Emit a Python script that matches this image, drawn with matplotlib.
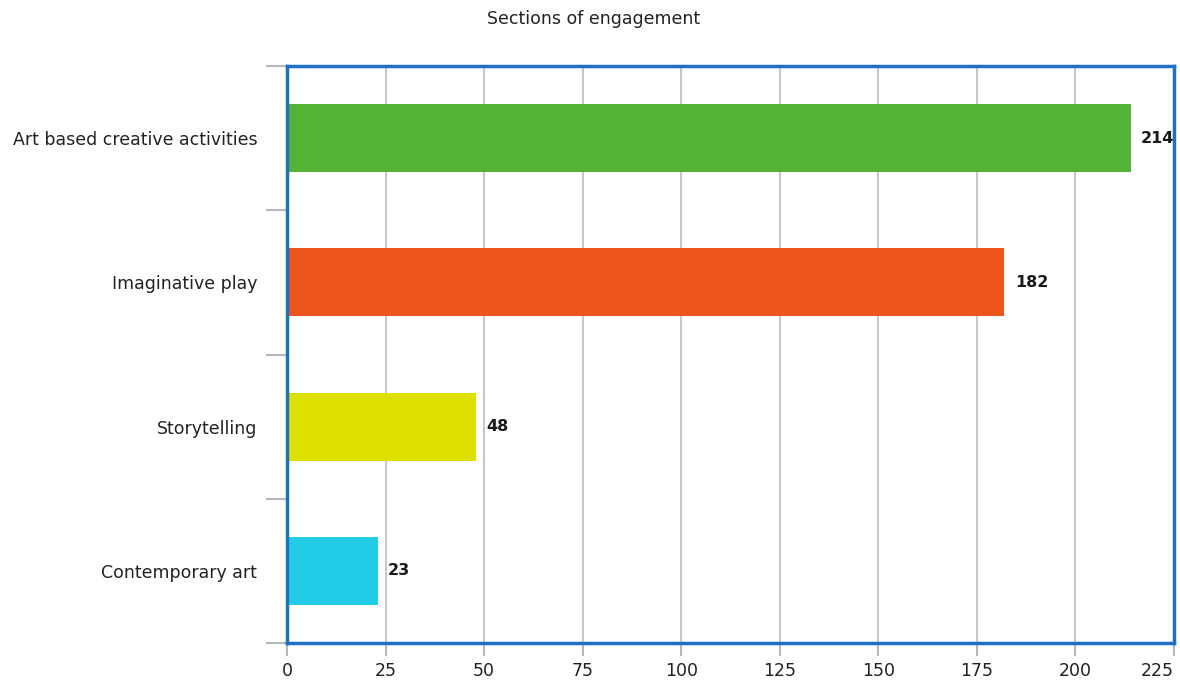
import matplotlib.pyplot as plt
import numpy as np

plt.rcParams["font.family"] = ["DejaVu Sans"]

categories = ["Art based creative activities", "Imaginative play", "Storytelling", "Contemporary art"]
values = [214, 182, 48, 23]
colors = ["#52B335", "#EC561E", "#DEE000", "#22CCE6"]
x_ticks = [0, 25, 50, 75, 100, 125, 150, 175, 200, 225]

fig = plt.figure(figsize=(11.8, 6.84), dpi=100)
ax = fig.add_axes([287 / 1180, 41 / 684, 887 / 1180, 577 / 684])

ypos = np.arange(len(categories))[::-1]
ax.barh(ypos, values, height=0.47, color=colors, zorder=3)
for y, v in zip(ypos, values):
    ax.annotate(str(v), (v, y), xytext=(7.5, 0), textcoords="offset points",
                va="center", ha="left", fontsize=11.5, fontweight="bold", color="#1a1a1a",
                zorder=5, annotation_clip=False)

ax.set_xlim(0, 225)
ax.set_ylim(-0.5, len(categories) - 0.5)
ax.set_xticks(x_ticks)
labels = ax.set_xticklabels([str(t) for t in x_ticks], fontsize=12.5, color="#222222")
labels[-1].set_horizontalalignment("right")
ax.tick_params(axis="x", length=9, width=1.5, color="#B0B8C0", pad=5)
ax.grid(axis="x", color="#C8C8C8", linewidth=1.5, zorder=0)

ax.set_yticks(ypos)
ax.set_yticklabels(categories, fontsize=12.5, color="#222222")
ax.tick_params(axis="y", which="major", length=0, pad=21.5)
ax.set_yticks(np.arange(len(categories) + 1) - 0.5, minor=True)
ax.tick_params(axis="y", which="minor", length=15, width=1.5, color="#B0B8C0")

for s in ax.spines.values():
    s.set_color("#1F6FC5")
    s.set_linewidth(2.5)
    s.set_zorder(4)

fig.text(594 / 1180, 1 - 19 / 684, "Sections of engagement", ha="center", va="center",
         fontsize=12.5, color="#222222")

fig.savefig("out.png", dpi=100)
